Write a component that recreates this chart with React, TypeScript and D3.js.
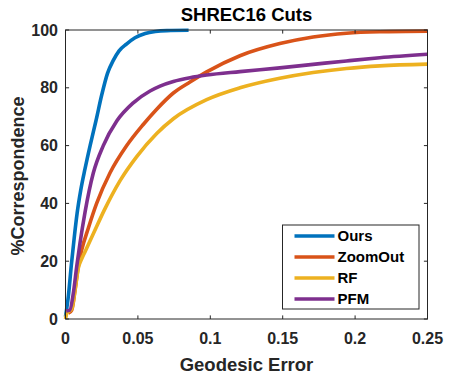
import React from 'react';
import * as d3 from 'd3';

const width = 473;
const height = 375;
const margin = { top: 30, right: 45.5, bottom: 56, left: 65.5 };

const seriesNames = ['Ours', 'ZoomOut', 'RF', 'PFM'];
const seriesColors = ['#0072BD', '#D95319', '#EDB120', '#7E2F8E'];

const oursX = [0, 0.002, 0.004, 0.006, 0.008, 0.0105, 0.0135, 0.017, 0.021, 0.025, 0.029, 0.033, 0.037, 0.0423, 0.048, 0.055, 0.062, 0.07, 0.085];
const oursY = [0.8, 8, 18.5, 28, 36.5, 44.5, 52, 60, 68.5, 77.5, 85, 89.5, 92.8, 95.2, 97.3, 98.8, 99.5, 99.8, 99.9];

const zoomOutX = [0.002, 0.0043, 0.0066, 0.0088, 0.0112, 0.0158, 0.0215, 0.0307, 0.0423, 0.0537, 0.063, 0.0745, 0.086, 0.0975, 0.1205, 0.148, 0.171, 0.194, 0.217, 0.25];
const zoomOutY = [2, 3.1, 10, 18.1, 23.9, 31.5, 40, 50.5, 60, 67.3, 72.6, 78.2, 82, 85.5, 91.1, 95.3, 97.6, 98.9, 99.4, 99.6];

const rfX = [0, 0.001, 0.0043, 0.0066, 0.0088, 0.0112, 0.0135, 0.0192, 0.0273, 0.0376, 0.0492, 0.063, 0.0745, 0.0975, 0.1205, 0.148, 0.171, 0.194, 0.217, 0.25];
const rfY = [0, 2, 3.5, 10, 17.5, 20.8, 23.3, 29.5, 38.2, 47.8, 56.2, 64.2, 69.3, 75.9, 80, 83.3, 85.3, 86.7, 87.6, 88.2];

const pfmX = [0.0005, 0.003, 0.0054, 0.0077, 0.01, 0.0135, 0.0192, 0.0261, 0.0354, 0.0468, 0.0584, 0.0653, 0.0745, 0.086, 0.0975, 0.1205, 0.148, 0.171, 0.194, 0.217, 0.25];
const pfmY = [2.8, 3.1, 8.9, 18, 26.2, 37, 50.5, 60, 68.5, 74.8, 78.9, 80.6, 82.2, 83.5, 84.4, 85.6, 86.9, 88.1, 89.3, 90.4, 91.6];

const xTicks = [0, 0.05, 0.1, 0.15, 0.2, 0.25];
const xTickLabels = ['0', '0.05', '0.1', '0.15', '0.2', '0.25'];
const yTicks = [0, 20, 40, 60, 80, 100];

const font = '"Liberation Sans", Arial, Helvetica, sans-serif';
const ink = '#262626';

const App = () => {
  const x = d3.scaleLinear().domain([0, 0.25]).range([margin.left, width - margin.right]);
  const y = d3.scaleLinear().domain([0, 100]).range([height - margin.bottom, margin.top]);

  const series = [
    { xs: oursX, ys: oursY },
    { xs: zoomOutX, ys: zoomOutY },
    { xs: rfX, ys: rfY },
    { xs: pfmX, ys: pfmY },
  ];

  const line = d3.line<[number, number]>()
    .x(d => x(d[0]))
    .y(d => y(d[1]))
    .curve(d3.curveMonotoneX);

  const [x0, x1] = x.range();
  const [y0, y1] = y.range();
  const tickLen = 3.6;

  const legendX = 282.5;
  const legendY = 225;
  const legendW = 136.5;
  const legendH = 84;

  return (
    <svg width={width} height={height} style={{ position: 'absolute', left: 0, top: 0, background: '#fff' }}>
      <rect x={0} y={0} width={width} height={height} fill="#fff" />

      {/* curves */}
      <g>
        {series.map((s, i) => (
          <path
            key={i}
            d={line(s.xs.map((v, j) => [v, s.ys[j]] as [number, number])) || ''}
            fill="none"
            stroke={seriesColors[i]}
            strokeWidth={3.6}
            strokeLinejoin="round"
          />
        ))}
      </g>

      {/* axes box and ticks */}
      <rect x={x0} y={y1} width={x1 - x0} height={y0 - y1} fill="none" stroke={ink} strokeWidth={1} />
      {xTicks.map((t, i) => (
        <g key={i}>
          <line x1={x(t)} x2={x(t)} y1={y0} y2={y0 - tickLen} stroke={ink} />
          <line x1={x(t)} x2={x(t)} y1={y1} y2={y1 + tickLen} stroke={ink} />
          <text
            x={x(t)}
            y={y0 + 25}
            textAnchor="middle"
            fontFamily={font}
            fontWeight="bold"
            fontSize={16}
            fill={ink}
          >
            {xTickLabels[i]}
          </text>
        </g>
      ))}
      {yTicks.map((t, i) => (
        <g key={i}>
          <line x1={x0} x2={x0 + tickLen} y1={y(t)} y2={y(t)} stroke={ink} />
          <line x1={x1} x2={x1 - tickLen} y1={y(t)} y2={y(t)} stroke={ink} />
          <text
            x={x0 - 7.5}
            y={y(t) + 5.6}
            textAnchor="end"
            fontFamily={font}
            fontWeight="bold"
            fontSize={16}
            fill={ink}
          >
            {t}
          </text>
        </g>
      ))}

      {/* title and axis labels */}
      <text x={(x0 + x1) / 2} y={20.7} textAnchor="middle" fontFamily={font} fontWeight="bold" fontSize={18.5} fill="#000">
        SHREC16 Cuts
      </text>
      <text x={(x0 + x1) / 2} y={370.5} textAnchor="middle" fontFamily={font} fontWeight="bold" fontSize={18.5} fill={ink}>
        Geodesic Error
      </text>
      <text
        transform={`translate(23.5, ${(y0 + y1) / 2 + 1.5}) rotate(-90)`}
        textAnchor="middle"
        fontFamily={font}
        fontWeight="bold"
        fontSize={18}
        fill={ink}
      >
        %Correspondence
      </text>

      {/* legend */}
      <g>
        <rect x={legendX} y={legendY} width={legendW} height={legendH} fill="#fff" stroke={ink} strokeWidth={1} />
        {seriesNames.map((name, i) => {
          const ry = legendY + 11 + i * 21;
          return (
            <g key={name}>
              <line x1={legendX + 12} x2={legendX + 52} y1={ry} y2={ry} stroke={seriesColors[i]} strokeWidth={3.6} />
              <text x={legendX + 55} y={ry + 5.3} fontFamily={font} fontWeight="bold" fontSize={15} fill="#000">
                {name}
              </text>
            </g>
          );
        })}
      </g>
    </svg>
  );
};

export default App;
